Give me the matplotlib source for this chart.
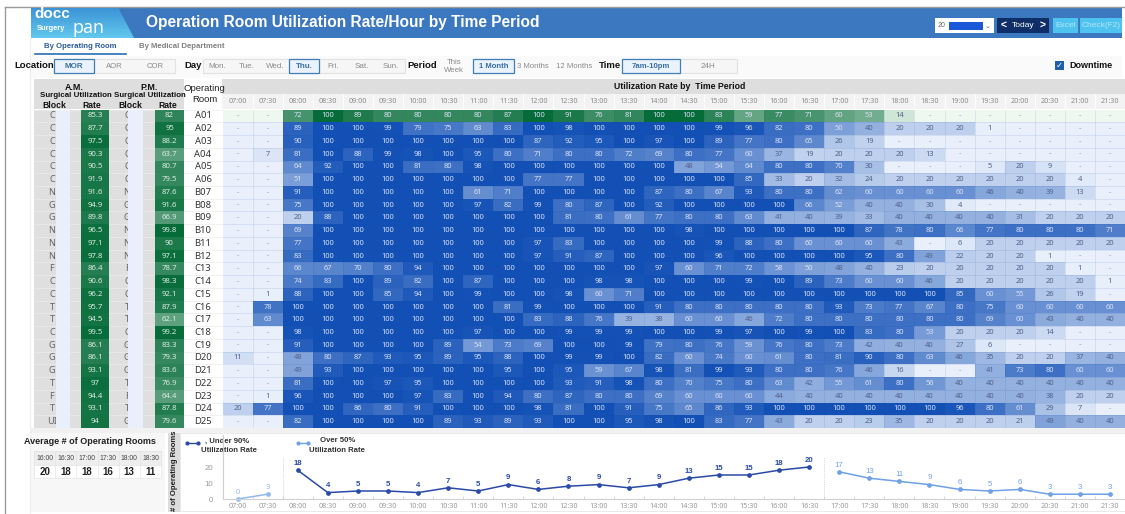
import matplotlib
matplotlib.use("Agg")
import matplotlib.pyplot as plt
from matplotlib.colors import LinearSegmentedColormap
from matplotlib.patches import Polygon, Rectangle
import numpy as np

W = 1125
H = 514
_ = None

times = ["07:00", "07:30", "08:00", "08:30", "09:00", "09:30", "10:00", "10:30", "11:00", "11:30",
         "12:00", "12:30", "13:00", "13:30", "14:00", "14:30", "15:00", "15:30", "16:00", "16:30",
         "17:00", "17:30", "18:00", "18:30", "19:00", "19:30", "20:00", "20:30", "21:00", "21:30"]
rooms = ["A01", "A02", "A03", "A04", "A05", "A06", "B07", "B08", "B09", "B10", "B11", "B12", "C13",
         "C14", "C15", "C16", "C17", "C18", "C19", "D20", "D21", "D22", "D23", "D24", "D25"]
am_block = ["C", "C", "C", "C", "C", "C", "N", "G", "G", "N", "N", "N", "F",
            "C", "C", "T", "T", "C", "G", "G", "G", "T", "F", "T", "UI"]
pm_block = ["C", "C", "C", "C", "C", "C", "N", "G", "G", "N", "N", "N", "F",
            "C", "C", "T", "T", "C", "G", "G", "G", "T", "F", "T", "G"]
am_rate = [85.3, 87.7, 97.5, 90.3, 90.5, 91.9, 91.6, 94.9, 89.8, 96.5, 97.1, 97.8, 86.4,
           90.6, 96.2, 95.7, 94.5, 99.5, 86.1, 86.1, 93.1, 97, 94.4, 93.1, 94]
pm_rate = [82, 95, 88.2, 63.7, 80.7, 79.5, 87.6, 91.6, 66.9, 99.8, 90, 97.1, 78.7,
           98.3, 92.1, 87.9, 62.1, 99.2, 83.3, 79.3, 83.6, 76.9, 64.4, 87.8, 79.6]
util = [
    [_, _, 72, 100, 89, 80, 80, 80, 80, 87, 100, 91, 76, 81, 100, 100, 83, 59, 77, 71, 60, 53, 14, _, _, _, _, _, _, _],
    [_, _, 89, 100, 100, 99, 79, 75, 63, 83, 100, 98, 100, 100, 100, 100, 99, 96, 82, 80, 50, 40, 20, 20, 20, 1, _, _, _, _],
    [_, _, 90, 100, 100, 100, 100, 100, 100, 100, 87, 92, 95, 100, 97, 100, 89, 77, 80, 65, 26, 19, _, _, _, _, _, _, _, _],
    [_, 7, 81, 100, 88, 99, 98, 100, 95, 80, 71, 80, 80, 72, 69, 80, 77, 60, 37, 19, 20, 20, 20, 13, _, _, _, _, _, _],
    [_, _, 64, 92, 100, 100, 81, 80, 98, 100, 100, 100, 100, 100, 100, 48, 54, 64, 80, 80, 70, 30, _, _, _, 5, 20, 9, _, _],
    [_, _, 51, 100, 100, 100, 100, 100, 100, 100, 77, 77, 100, 100, 100, 100, 100, 85, 33, 20, 32, 24, 20, 20, 20, 20, 20, 20, 4, _],
    [_, _, 91, 100, 100, 100, 100, 100, 61, 71, 100, 100, 100, 100, 87, 80, 67, 93, 80, 80, 62, 60, 60, 60, 60, 46, 40, 39, 13, _],
    [_, _, 75, 100, 100, 100, 100, 100, 97, 82, 99, 80, 87, 100, 92, 100, 100, 100, 100, 66, 52, 40, 40, 30, 4, _, _, _, _, _],
    [_, _, 20, 88, 100, 100, 100, 100, 100, 100, 100, 81, 80, 61, 77, 80, 80, 63, 41, 40, 39, 33, 40, 40, 40, 40, 31, 20, 20, 20],
    [_, _, 69, 100, 100, 100, 100, 100, 100, 100, 100, 100, 100, 100, 100, 98, 100, 100, 100, 100, 100, 87, 78, 80, 66, 77, 80, 80, 80, 71],
    [_, _, 77, 100, 100, 100, 100, 100, 100, 100, 97, 83, 100, 100, 100, 100, 99, 88, 80, 60, 60, 60, 43, _, 6, 20, 20, 20, 20, 20],
    [_, _, 83, 100, 100, 100, 100, 100, 100, 100, 97, 91, 87, 100, 100, 100, 96, 100, 100, 100, 100, 95, 80, 49, 22, 20, 20, 1, _, _],
    [_, _, 66, 67, 70, 80, 94, 100, 100, 100, 100, 100, 100, 100, 97, 60, 71, 72, 58, 50, 48, 40, 23, 20, 20, 20, 20, 20, 1, _],
    [_, _, 74, 83, 100, 89, 82, 100, 87, 100, 100, 100, 98, 98, 100, 100, 100, 99, 100, 89, 73, 60, 60, 46, 20, 20, 20, 20, 20, 1],
    [_, 1, 88, 100, 100, 85, 94, 100, 99, 100, 100, 98, 60, 71, 100, 100, 100, 100, 100, 100, 100, 100, 100, 100, 85, 60, 55, 26, 19, _],
    [_, 78, 100, 100, 100, 100, 100, 100, 100, 81, 99, 100, 100, 100, 91, 80, 80, 80, 80, 80, 93, 73, 77, 67, 80, 75, 60, 60, 60, 60],
    [_, 63, 100, 100, 100, 100, 100, 100, 100, 100, 83, 88, 76, 39, 38, 60, 60, 46, 72, 80, 80, 80, 80, 80, 80, 69, 60, 43, 40, 40],
    [_, _, 98, 100, 100, 100, 100, 100, 97, 100, 100, 99, 99, 99, 100, 100, 99, 97, 100, 99, 100, 83, 80, 53, 20, 20, 20, 14, _, _],
    [_, _, 91, 100, 100, 100, 100, 89, 54, 73, 69, 100, 100, 99, 79, 80, 76, 59, 76, 80, 73, 42, 40, 40, 27, 6, _, _, _, _],
    [11, _, 48, 80, 87, 93, 95, 89, 95, 88, 100, 99, 99, 100, 82, 60, 74, 60, 61, 80, 81, 90, 80, 63, 46, 35, 20, 20, 37, 40],
    [_, _, 49, 93, 100, 100, 100, 100, 100, 95, 100, 95, 59, 67, 98, 81, 99, 93, 80, 80, 76, 46, 16, _, _, 41, 73, 80, 60, 60],
    [_, _, 81, 100, 100, 97, 95, 100, 100, 100, 100, 93, 91, 98, 80, 70, 75, 80, 63, 42, 55, 61, 80, 56, 40, 40, 40, 40, 40, 40],
    [_, 1, 96, 100, 100, 100, 97, 83, 100, 94, 80, 87, 80, 80, 69, 60, 60, 60, 44, 40, 40, 40, 40, 40, 40, 40, 40, 38, 20, 20],
    [20, 77, 100, 100, 86, 80, 91, 100, 100, 100, 98, 81, 100, 91, 75, 65, 86, 93, 100, 100, 100, 100, 100, 100, 96, 80, 61, 29, 7, _],
    [_, _, 82, 100, 100, 100, 100, 89, 93, 89, 93, 100, 100, 95, 98, 100, 83, 77, 43, 20, 20, 23, 35, 20, 20, 20, 21, 49, 40, 40],
]

avg_times = ["16:00", "16:30", "17:00", "17:30", "18:00", "18:30"]
avg_rooms = [20, 18, 18, 16, 13, 11]

early_counts = [0, 3]
under_counts = [18, 4, 5, 5, 4, 7, 5, 9, 6, 8, 9, 7, 9, 13, 15, 15, 18, 20]
over_counts = [17, 13, 11, 9, 6, 5, 6, 3, 3, 3]

days = ["Mon.", "Tue.", "Wed.", "Thu.", "Fri.", "Sat.", "Sun."]

blues = LinearSegmentedColormap.from_list("b", ["#e9f0fb", "#1250b6"])
greens = LinearSegmentedColormap.from_list("g", ["#eef8f1", "#056b38"])

plt.rcParams["font.family"] = ["Liberation Sans", "DejaVu Sans"]
fig = plt.figure(figsize=(W / 100, H / 100), dpi=100, facecolor="white")


def px_axes(x0, y0, x1, y1):
    return fig.add_axes([x0 / W, 1 - y1 / H, (x1 - x0) / W, (y1 - y0) / H])


bg = fig.add_axes([0, 0, 1, 1])
bg.set_xlim(0, W)
bg.set_ylim(H, 0)
bg.axis("off")


def box(x0, y0, x1, y1, fc, ec="none", lw=0.8, z=1):
    bg.add_patch(Rectangle((x0, y0), x1 - x0, y1 - y0, fc=fc, ec=ec, lw=lw, zorder=z))


def label(x, y, s, size=6, color="#222222", weight="normal", ha="center", family=None, rot=0):
    bg.text(x, y, s, fontsize=size, color=color, weight=weight, ha=ha, va="center",
            family=family, rotation=rot, zorder=5)


# page frame and header band
bg.plot([5, 1125], [6.5, 6.5], color="#9a9a9a", lw=1)
bg.plot([5, 5], [6.5, 514], color="#9a9a9a", lw=1)
bg.plot([30, 30], [38, 514], color="#ececec", lw=0.8)
box(31, 8, 1122, 38, "#3b78bf")
logo = Polygon([(31, 8), (118, 8), (134, 38), (31, 38)], fc="#4db4e6", ec="none", zorder=2)
bg.add_patch(logo)
grad = bg.imshow(np.linspace(0, 1, 30).reshape(-1, 1), extent=(31, 134, 38, 8), aspect="auto",
                 cmap=LinearSegmentedColormap.from_list("l", ["#3c93d6", "#62c8ee"]), zorder=2)
grad.set_clip_path(logo)
bg.set_xlim(0, W)
bg.set_ylim(H, 0)
label(34, 14, "docc", 11, "white", "bold", "left")
label(37, 29, "Surgery", 5.4, "white", "bold", "left")
label(72, 28, "pan", 13, "white", "normal", "left", family="Open Sans")
label(146, 22, "Operation Room Utilization Rate/Hour by Time Period", 11.2, "white", "bold", "left")

box(935, 18, 994, 33, "white")
box(949, 22, 983, 30, "#1a58d8", z=2)
label(938, 25.5, "20", 5, "#666666", ha="left")
label(988, 26, "⌄", 5, "#666666", family="DejaVu Sans")
box(997, 18, 1049, 33, "#0f2d66")
label(1023, 25.5, "Today", 6, "white")
label(1004, 25.5, "<", 7.5, "white", "bold")
label(1043, 25.5, ">", 7.5, "white", "bold")
box(1053, 18, 1078, 33, "#4fc3ef")
label(1065.5, 25.5, "Excel", 6, "#b5e6f8")
box(1080, 18, 1122, 33, "#4fc3ef")
label(1101, 25.5, "Check(F2)", 6, "#b5e6f8")

# tabs
label(44, 46, "By Operating Room", 5.6, "#2a5c9c", "bold", "left")
label(139, 46, "By Medical Department", 5.6, "#808080", "bold", "left")
bg.plot([35, 126], [54, 54], color="#2a6db5", lw=1.2)

# filter row
box(30, 56, 1122, 78, "#fafafa")
label(14, 66, "Location", 6.8, "#111111", "bold", "left")
box(54, 59, 175, 73, "#f6f6f6", "#e2e2e2")
box(54, 59, 94, 73, "#eaf3fb", "#3f7fb5", 0.9, 2)
label(74, 66, "MOR", 5.8, "#3a6ea5", "bold")
label(114, 66, "AOR", 5.6, "#8a8a8a")
label(155, 66, "COR", 5.6, "#8a8a8a")
label(184, 66, "Day", 6.8, "#111111", "bold", "left")
day_edges = [203, 232, 261, 289, 319, 347, 377, 405]
box(203, 59, 405, 73, "#f6f6f6", "#e2e2e2")
for i, d in enumerate(days):
    on = d == "Thu."
    if on:
        box(day_edges[i], 59, day_edges[i + 1], 73, "#eaf3fb", "#3f7fb5", 0.9, 2)
    label((day_edges[i] + day_edges[i + 1]) / 2, 66, d, 5.8, "#3a6ea5" if on else "#8a8a8a", "bold" if on else "normal")
label(407, 66, "Period", 6.8, "#111111", "bold", "left")
label(454, 66, "This\nWeek", 5.6, "#8a8a8a")
box(473, 59, 514, 73, "#eaf3fb", "#3f7fb5", 0.9, 2)
label(493.5, 66, "1 Month", 5.6, "#3a6ea5", "bold")
label(533, 66, "3 Months", 5.6, "#8a8a8a")
label(574, 66, "12 Months", 5.6, "#8a8a8a")
label(599, 66, "Time", 6.8, "#111111", "bold", "left")
box(622, 59, 737, 73, "#f6f6f6", "#e2e2e2")
box(622, 59, 680, 73, "#eaf3fb", "#3f7fb5", 0.9, 2)
label(651, 66, "7am-10pm", 5.6, "#3a6ea5", "bold")
label(708, 66, "24H", 5.8, "#8a8a8a")
box(1055, 61, 1064, 70, "#1f5fae")
label(1059.5, 65.5, "✓", 6, "white", "bold", family="DejaVu Sans")
label(1069, 65.5, "Downtime", 6.5, "#111111", "bold", "left")

# table head
box(34, 79, 1125, 108.5, "#dedede")
box(222, 94, 1125, 108.5, "#f3f3f3")
box(184, 79, 222, 108.5, "white", z=2)
label(680, 86.5, "Utilization Rate by  Time Period", 6.3, "#111111", "bold")
label(74, 87, "A.M.", 6.4, "#111111", "bold")
label(149, 87, "P.M.", 6.4, "#111111", "bold")
label(75.5, 95.5, "Surgical Utilization", 5.7, "#111111", "bold")
label(150, 95.5, "Surgical Utilization", 5.7, "#111111", "bold")
label(54, 105, "Block", 6.2, "#111111", "bold")
label(92, 105, "Rate", 6.2, "#111111", "bold")
label(130, 105, "Block", 6.2, "#111111", "bold")
label(168, 105, "Rate", 6.2, "#111111", "bold")
label(204, 88.5, "Operating", 6.8, "#222222")
label(205, 99.5, "Room", 6.8, "#222222")

# block columns, partly masked in the original
y_top, y_bot = 109.6, 428
row_h = (y_bot - y_top) / len(rooms)
box(34, y_top, 81, y_bot, "#dfdfdf")
box(109, y_top, 155, y_bot, "#dfdfdf")
box(184, y_top, 222, y_bot, "white")
for i in range(len(rooms)):
    yc = y_top + (i + 0.5) * row_h
    bg.plot([34, 81], [y_top + i * row_h] * 2, color="#efefef", lw=0.4, zorder=2)
    bg.plot([109, 155], [y_top + i * row_h] * 2, color="#efefef", lw=0.4, zorder=2)
    bg.plot([184, 222], [y_top + i * row_h] * 2, color="#e6e6e6", lw=0.4, zorder=2)
    label(52, yc, am_block[i], 6.6, "#666666", family="Noto Sans")
    label(127, yc, pm_block[i], 6.6, "#666666", family="Noto Sans")
    label(203, yc, rooms[i], 6.8, "#333333", family="Noto Sans")
box(56, y_top, 70, y_bot, "#e9f0fb", z=6)
box(128, y_top, 143, y_bot, "#e9f0fb", z=6)
box(30, y_bot, 1125, 433, "#f1f1f1")

# rate columns
for vals, x0, x1 in [(am_rate, 81, 109), (pm_rate, 155, 184)]:
    ax = px_axes(x0, y_top, x1, y_bot)
    ax.pcolormesh(np.array(vals).reshape(-1, 1), cmap=greens, vmin=0, vmax=100)
    ax.set_ylim(len(vals), 0)
    ax.axis("off")
    for i, v in enumerate(vals):
        ax.text(0.5, i + 0.5, str(v), ha="center", va="center", fontsize=5.6, color="#dcebe2",
                weight="bold", family="Noto Sans")

# main grid
grid = np.array([[0 if v is None else v for v in row] for row in util], dtype=float)
ax = px_axes(222.5, y_top, 1125, y_bot)
mask_top = np.zeros_like(grid, dtype=bool)
mask_top[0] = True
ax.pcolormesh(np.ma.array(grid, mask=mask_top), cmap=blues, vmin=0, vmax=100)
ax.pcolormesh(np.ma.array(grid, mask=~mask_top), cmap=greens, vmin=0, vmax=100)
ax.set_xlim(0, len(times))
ax.set_ylim(len(rooms), 0)
ax.axis("off")
ax.hlines(range(1, len(rooms)), 0, len(times), color="#1d4f9f", lw=0.4, alpha=0.18)
ax.vlines(range(1, len(times)), 0, len(rooms), color="#1d4f9f", lw=0.4, alpha=0.18)
for i, row in enumerate(util):
    for j, v in enumerate(row):
        if v is None:
            s, c = "-", "#8d9ab5"
        elif v >= 50:
            s, c = str(v), "#d9e2f4"
        else:
            s, c = str(v), "#50628c"
        ax.text(j + 0.5, i + 0.5, s, ha="center", va="center", fontsize=5.4, color=c, family="Noto Sans")

# time labels over the grid
head = px_axes(222.5, 94, 1125, 108.5)
head.set_xlim(0, len(times))
head.set_ylim(0, 1)
head.axis("off")
head.vlines(range(1, len(times)), 0, 1, color="white", lw=0.6)
for j, t in enumerate(times):
    head.text(j + 0.5, 0.45, t, ha="center", va="center", fontsize=5.2, color="#8a8a8a", family="Noto Sans")

# average table
box(30, 433, 165, 512, "#f7f7f7")
label(90, 441, "Average # of Operating Rooms", 6.5, "#222222", "bold")
box(34, 451, 161, 478, "white", "#e4e4e4", 0.5)
box(34, 451, 161, 465, "#eeeeee", "#e4e4e4", 0.5)
cw = (161 - 34) / len(avg_times)
for i in range(len(avg_times)):
    label(34 + (i + 0.5) * cw, 458, avg_times[i], 4.9, "#444444")
    label(34 + (i + 0.5) * cw, 472, avg_rooms[i], 7, "#222222", "bold")
    if i:
        bg.plot([34 + i * cw] * 2, [451, 478], color="#e4e4e4", lw=0.5, zorder=2)

# counts panel
box(168, 433, 180, 512, "#dcdcdc")
label(174, 471, "# of Operating Rooms", 5.6, "#222222", "bold", rot=90)
box(180, 433, 1125, 511, "white", "#e6e6e6", 0.6)
bg.plot([187, 198], [443, 443], color="#2a4aa8", lw=1, marker="o", ms=2)
bg.plot([298, 308], [443, 443], color="#6ea1e6", lw=1, marker="o", ms=2)
label(205, 441, ", Under 90%", 5.6, "#333333", "bold", "left")
label(201, 450.5, "Utilization Rate", 5.6, "#333333", "bold", "left")
label(320, 441, "Over 50%", 5.6, "#333333", "bold", "left")
label(309, 450.5, "Utilization Rate", 5.6, "#333333", "bold", "left")

lx = px_axes(222.5, 435, 1125, 499)
lx.patch.set_alpha(0)
lx.set_xlim(-0.5, len(times) - 0.5)
lx.set_ylim(0, 40)
x_idx = np.arange(len(times))
n_early = len(early_counts)
n_under = len(under_counts)
series = [(x_idx[:n_early], early_counts, "#8fbaf0"),
          (x_idx[n_early:n_early + n_under], under_counts, "#2a4aa8"),
          (x_idx[n_early + n_under:], over_counts, "#6ea1e6")]
for xs, ys, col in series:
    lx.plot(xs, ys, color=col, lw=1.1, marker="o", ms=2.4, clip_on=False)
    for x, y in zip(xs, ys):
        lx.text(x, y + 2, str(y), ha="center", va="bottom", fontsize=5.6, color=col, weight="bold" if col == "#2a4aa8" else "normal")
for split in [n_early - 0.5, n_early + n_under - 0.5]:
    lx.plot([split, split], [0, 26], color="#b5b5b5", lw=0.5, ls=":")
for s in ["top", "right"]:
    lx.spines[s].set_visible(False)
lx.spines["left"].set_color("#d0d0d0")
lx.spines["bottom"].set_color("#d0d0d0")
lx.set_yticks([0, 10, 20])
lx.set_xticks(x_idx)
lx.set_xticklabels(times, fontsize=5.2, color="#9a9a9a", family="Noto Sans")
lx.tick_params(axis="y", labelsize=5.6, labelcolor="#9a9a9a", length=0, pad=7)
lx.tick_params(axis="x", length=0, pad=3)
lx.set_xticks(x_idx[:-1] + 0.5, minor=True)
lx.tick_params(axis="x", which="minor", direction="in", length=2, color="#c8c8c8", width=0.5)

plt.savefig("out.png", dpi=100)
